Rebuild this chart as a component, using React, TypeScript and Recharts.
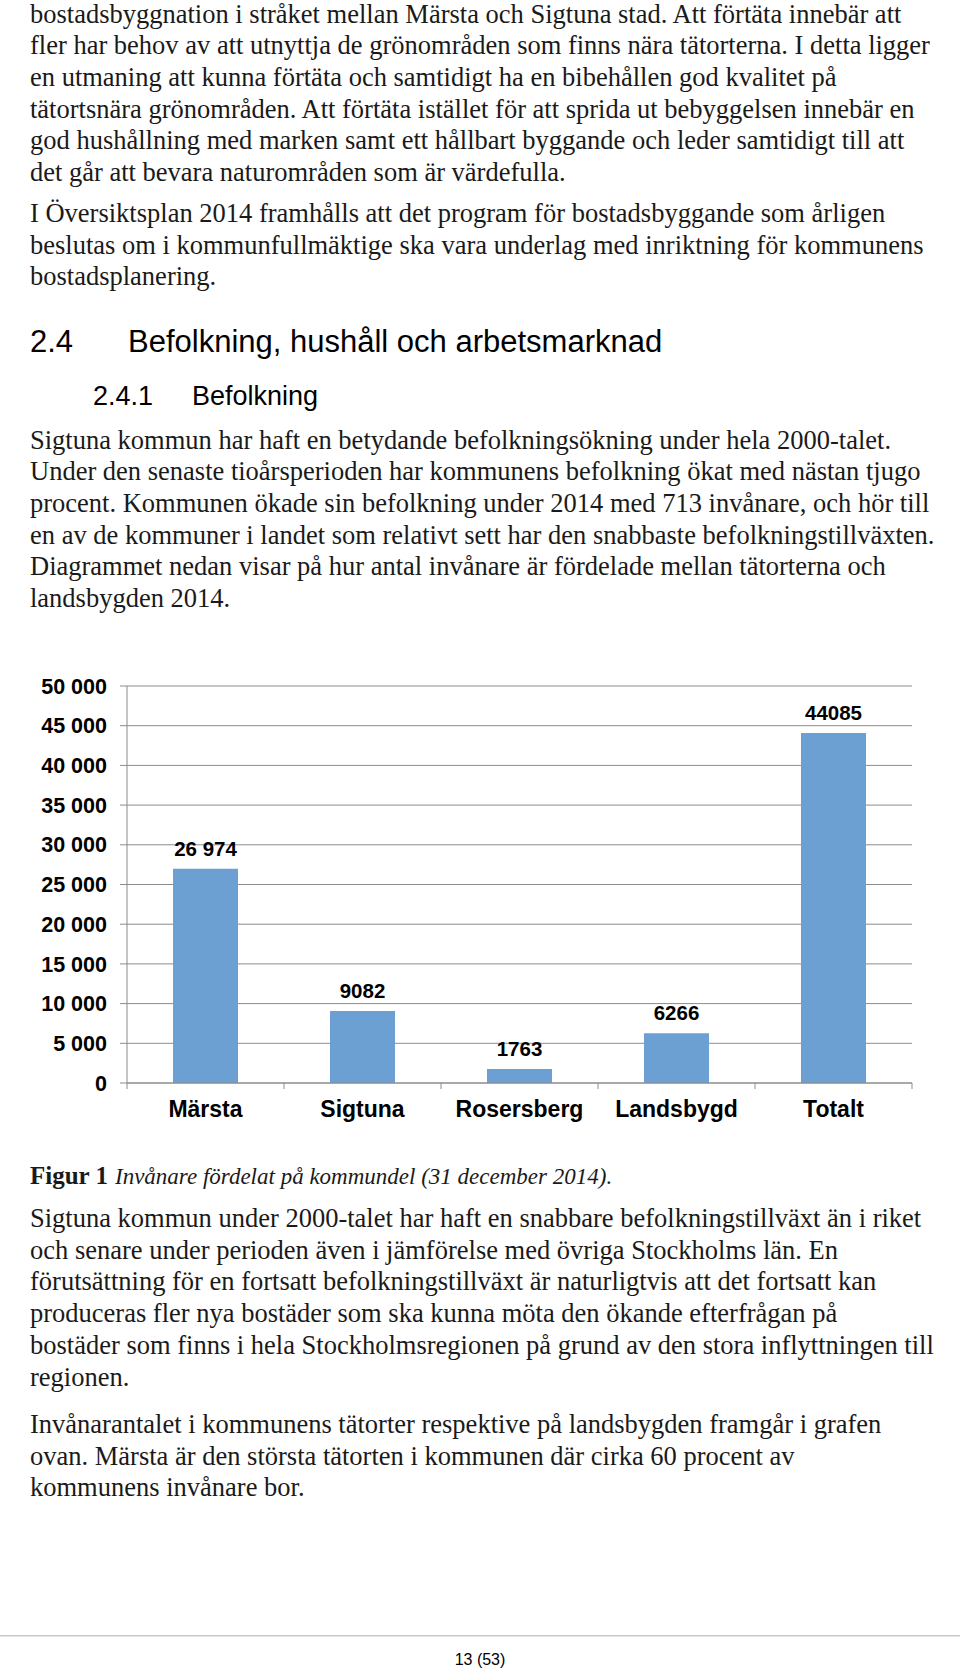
import React from "react";
import { BarChart, Bar, XAxis, YAxis, CartesianGrid, LabelList } from "recharts";

// data (invånare per kommundel, 31 dec 2014)
const categories = ["Märsta", "Sigtuna", "Rosersberg", "Landsbygd", "Totalt"];
const inhabitants = [26974, 9082, 1763, 6266, 44085];
const valueLabels = ["26 974", "9082", "1763", "6266", "44085"];
const yTicks = [0, 5000, 10000, 15000, 20000, 25000, 30000, 35000, 40000, 45000, 50000];

const para1 = [
  "bostadsbyggnation i stråket mellan Märsta och Sigtuna stad. Att förtäta innebär att",
  "fler har behov av att utnyttja de grönområden som finns nära tätorterna. I detta ligger",
  "en utmaning att kunna förtäta och samtidigt ha en bibehållen god kvalitet på",
  "tätortsnära grönområden. Att förtäta istället för att sprida ut bebyggelsen innebär en",
  "god hushållning med marken samt ett hållbart byggande och leder samtidigt till att",
  "det går att bevara naturområden som är värdefulla.",
];
const para2 = [
  "I Översiktsplan 2014 framhålls att det program för bostadsbyggande som årligen",
  "beslutas om i kommunfullmäktige ska vara underlag med inriktning för kommunens",
  "bostadsplanering.",
];
const para3 = [
  "Sigtuna kommun har haft en betydande befolkningsökning under hela 2000-talet.",
  "Under den senaste tioårsperioden har kommunens befolkning ökat med nästan tjugo",
  "procent. Kommunen ökade sin befolkning under 2014 med 713 invånare, och hör till",
  "en av de kommuner i landet som relativt sett har den snabbaste befolkningstillväxten.",
  "Diagrammet nedan visar på hur antal invånare är fördelade mellan tätorterna och",
  "landsbygden 2014.",
];
const para4 = [
  "Sigtuna kommun under 2000-talet har haft en snabbare befolkningstillväxt än i riket",
  "och senare under perioden även i jämförelse med övriga Stockholms län. En",
  "förutsättning för en fortsatt befolkningstillväxt är naturligtvis att det fortsatt kan",
  "produceras fler nya bostäder som ska kunna möta den ökande efterfrågan på",
  "bostäder som finns i hela Stockholmsregionen på grund av den stora inflyttningen till",
  "regionen.",
];
const para5 = [
  "Invånarantalet i kommunens tätorter respektive på landsbygden framgår i grafen",
  "ovan. Märsta är den största tätorten i kommunen där cirka 60 procent av",
  "kommunens invånare bor.",
];

const chartData = categories.map((name, i) => ({
  name,
  value: inhabitants[i],
  label: valueLabels[i],
}));

const SERIF = "'Liberation Serif', 'Times New Roman', serif";
const SANS = "'Liberation Sans', Arial, sans-serif";
const TEXT = "#1a1a1a";
const GRID = "#8c8c8c";
const BAR = "#6C9FD2";
const LINE_H = 31.7;

const CHART_W = 960;
const CHART_H = 500;
const MARGIN = { top: 46, right: 48, left: 0, bottom: 0 };
const Y_W = 127;
const X_TICK_SIZE = 6;
const X_TICK_MARGIN = 12;

const fmtThousands = (v: number) =>
  v === 0 ? "0" : String(v).replace(/\B(?=(\d{3})+(?!\d))/g, " ");

function Lines({ lines, x, y0, size }: { lines: string[]; x: number; y0: number; size: number }) {
  return (
    <>
      {lines.map((t, i) => (
        <text key={i} x={x} y={y0 + i * LINE_H} fontFamily={SERIF} fontSize={size} fill={TEXT}>
          {t}
        </text>
      ))}
    </>
  );
}

function CategoryTick(props: any) {
  const { x, y, payload, index } = props;
  const fallback = (CHART_W - Y_W - MARGIN.right) / categories.length / 2;
  const half = payload?.offset || fallback;
  const axisY = y - X_TICK_SIZE - X_TICK_MARGIN;
  return (
    <g>
      <line x1={x - half} x2={x - half} y1={axisY} y2={axisY + X_TICK_SIZE} stroke={GRID} />
      {index === categories.length - 1 && (
        <line x1={x + half} x2={x + half} y1={axisY} y2={axisY + X_TICK_SIZE} stroke={GRID} />
      )}
      <text x={x} y={y} dy="0.71em" textAnchor="middle" fontFamily={SANS} fontWeight="bold" fontSize={23} fill="#000">
        {payload.value}
      </text>
    </g>
  );
}

export default function App() {
  const bodySize = 26.5;
  return (
    <div style={{ position: "absolute", left: 0, top: 0, width: 960, height: 1671, background: "#fff" }}>
      <svg width={960} height={1671} style={{ position: "absolute", left: 0, top: 0 }}>
        <Lines lines={para1} x={30} y0={22.5} size={bodySize} />
        <Lines lines={para2} x={30} y0={222} size={bodySize} />

        <text x={30} y={351.7} fontFamily={SANS} fontSize={31} fill="#000">2.4</text>
        <text x={128} y={351.7} fontFamily={SANS} fontSize={31} fill="#000">
          Befolkning, hushåll och arbetsmarknad
        </text>
        <text x={93} y={405} fontFamily={SANS} fontSize={27} fill="#000">2.4.1</text>
        <text x={192} y={405} fontFamily={SANS} fontSize={27} fill="#000">Befolkning</text>

        <Lines lines={para3} x={30} y0={448.5} size={bodySize} />

        <text x={30} y={1184} fontFamily={SERIF} fontSize={25} fontWeight="bold" fill={TEXT}>Figur 1</text>
        <text x={115} y={1184} fontFamily={SERIF} fontSize={23} fontStyle="italic" fill={TEXT}>
          Invånare fördelat på kommundel (31 december 2014).
        </text>

        <Lines lines={para4} x={30} y0={1227} size={bodySize} />
        <Lines lines={para5} x={30} y0={1433} size={bodySize} />

        <line x1={0} x2={960} y1={1635.7} y2={1635.7} stroke="#c8c8c8" strokeWidth={1.5} />
        <text x={480} y={1665} textAnchor="middle" fontFamily={SANS} fontSize={16} fill="#000">13 (53)</text>
      </svg>

      <div style={{ position: "absolute", left: 0, top: 640, width: CHART_W, height: CHART_H }}>
        <BarChart width={CHART_W} height={CHART_H} data={chartData} margin={MARGIN}>
          <CartesianGrid vertical={false} stroke={GRID} strokeWidth={1} />
          <YAxis
            width={Y_W}
            domain={[0, 50000]}
            ticks={yTicks}
            interval={0}
            tickFormatter={fmtThousands}
            tickSize={7}
            tickMargin={13}
            axisLine={{ stroke: GRID }}
            tickLine={{ stroke: GRID }}
            tick={{ fontFamily: SANS, fontSize: 21.5, fontWeight: "bold", fill: "#000" }}
          />
          <XAxis
            dataKey="name"
            height={57}
            interval={0}
            tickSize={X_TICK_SIZE}
            tickMargin={X_TICK_MARGIN}
            axisLine={{ stroke: GRID }}
            tickLine={{ stroke: "none" }}
            tick={<CategoryTick />}
          />
          <Bar dataKey="value" fill={BAR} barSize={65} isAnimationActive={false}>
            <LabelList
              dataKey="label"
              position="top"
              offset={13}
              style={{ fontFamily: SANS, fontSize: 20.5, fontWeight: "bold", fill: "#000" }}
            />
          </Bar>
        </BarChart>
      </div>
    </div>
  );
}
